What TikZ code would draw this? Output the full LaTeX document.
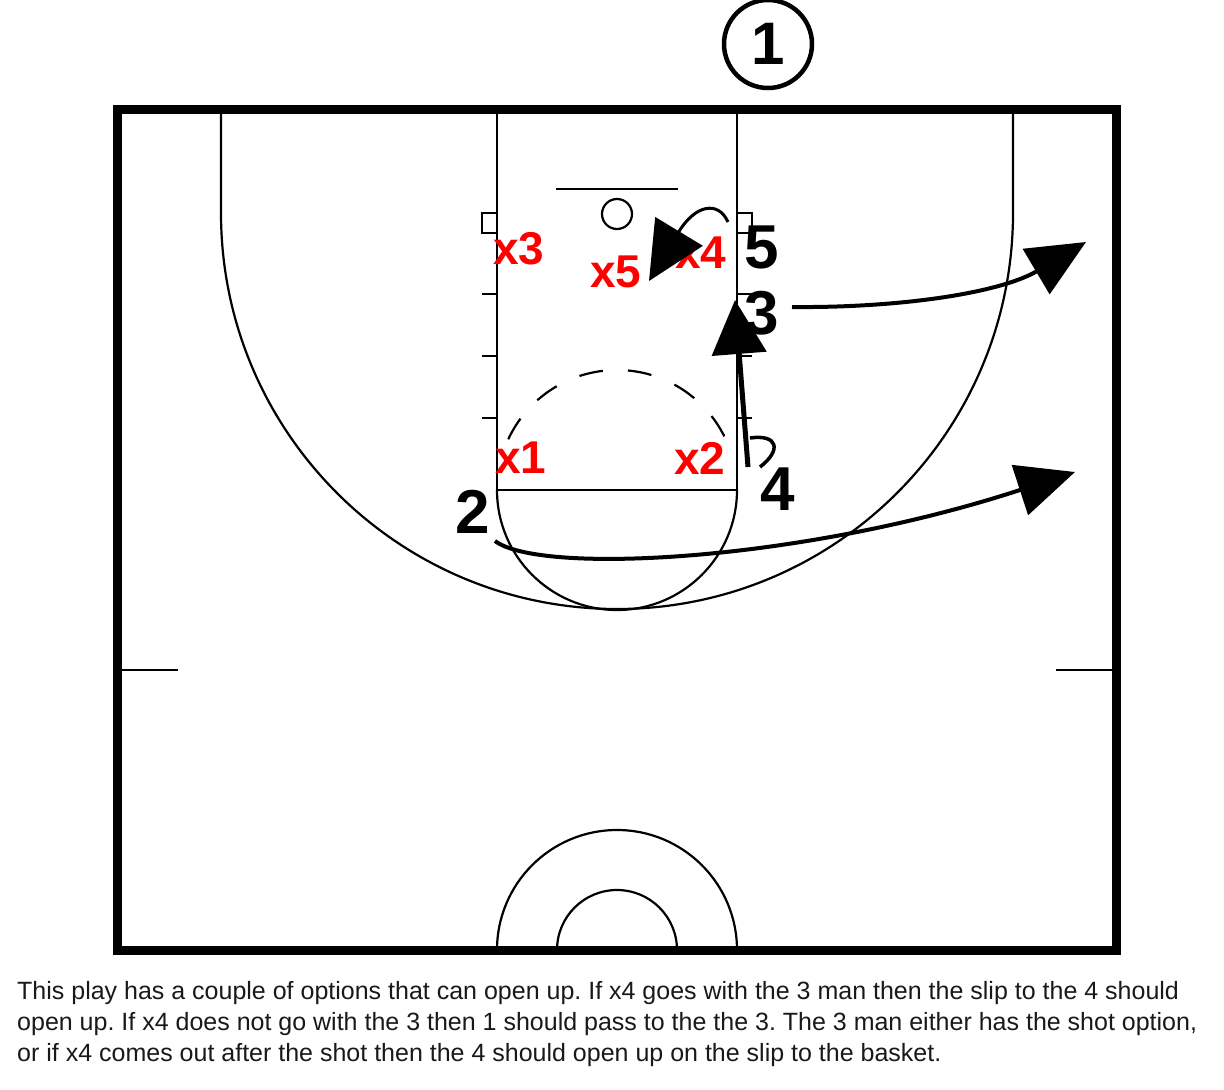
\documentclass[tikz,border=0pt]{standalone}
\usepackage{fontspec}
\setmainfont{Liberation Sans}
\usetikzlibrary{arrows.meta}
\frenchspacing
\begin{document}
\begin{tikzpicture}[x=1pt,y=-1pt,
  court/.style={line width=2.2pt},
  border/.style={line width=9pt},
  player/.style={font=\fontsize{62}{62}\selectfont\bfseries, inner sep=0pt},
  defender/.style={font=\fontsize{46}{46}\selectfont\bfseries, text=red, inner sep=0pt},
  move/.style={line width=4pt, -{Triangle[length=58pt,width=52pt]}},
  caption/.style={font=\fontsize{25}{31.5}\selectfont, text=black!90, inner sep=0pt, anchor=base west},
]
\useasboundingbox (0,0) rectangle (1224,1090);
% court
\draw[border] (117,109) rectangle (1116,950);
\draw[court] (221,109) -- (221,213) arc (180:0:396) -- (1013,109);
\draw[court] (497,109) -- (497,490) -- (737,490) -- (737,109);
\draw[court] (737,490) arc (0:180:120);
\draw[court, dash pattern=on 24pt off 25pt] (617,490) ++(205:120) arc (205:335:120);
% blocks and hash marks
\draw[court] (497,213) -- (482,213) -- (482,233) -- (497,233);
\draw[court] (737,213) -- (752,213) -- (752,233) -- (737,233);
\foreach \yy in {294,356,418} {
  \draw[court] (482,\yy) -- (497,\yy);
  \draw[court] (737,\yy) -- (752,\yy);
}
% backboard and rim
\draw[line width=2.5pt] (556,189) -- (678,189);
\draw[court] (617,214) circle (15);
% midcourt ticks
\draw[court] (122,670) -- (178,670);
\draw[court] (1056,670) -- (1112,670);
% centre circles
\draw[court] (497,950) arc (180:360:120);
\draw[court] (557,950) arc (180:360:60);
% ball handler
\node[draw, circle, line width=4.5pt, minimum size=88pt, inner sep=0pt,
      font=\fontsize{60}{60}\selectfont\bfseries] (p1) at (768,44) {1};
% defenders
\node[defender] (x3) at (519,249) {x3};
\node[defender] (x5) at (616,272) {x5};
\node[defender] (x4) at (701,253) {x4};
\node[defender] (x1) at (521,458) {x1};
\node[defender] (x2) at (700,458) {x2};
% offence
\node[player] (p5) at (762,247) {5};
\node[player] (p3) at (762,313) {3};
\node[player] (p4) at (778,489) {4};
\node[player] (p2) at (473,512) {2};
% movement
\coordinate (a3s) at (792,307);
\coordinate (a3e) at (1086,242);
\draw[move] (a3s) .. controls (900,308) and (1000,293) .. (a3e);
\coordinate (a2s) at (495,541);
\coordinate (a2e) at (1075,472);
\draw[move] (a2s) .. controls (540,575) and (800,562) .. (a2e);
\coordinate (a4s) at (748,467);
\coordinate (a4e) at (735,300);
\draw[line width=5pt, -{Triangle[length=54pt,width=54pt]}] (a4s) -- (a4e);
\coordinate (h4s) at (750,438);
\coordinate (h4e) at (760,467);
\draw[line width=3.5pt] (h4s) .. controls (778,434) and (782,450) .. (h4e);
\coordinate (ax4s) at (728,222);
\coordinate (ax4e) at (649,281);
\draw[line width=3pt, -{Triangle[length=58pt,width=55pt]}] (ax4s) .. controls (718,200) and (695,205) .. (ax4e);
% caption
\node[caption] (c1) at (17,999) {This play has a couple of options that can open up. If x4 goes with the 3 man then the slip to the 4 should};
\node[caption] (c2) at (17,1030) {open up. If x4 does not go with the 3 then 1 should pass to the the 3. The 3 man either has the shot option,};
\node[caption] (c3) at (17,1061) {or if x4 comes out after the shot then the 4 should open up on the slip to the basket.};
\end{tikzpicture}
\end{document}
